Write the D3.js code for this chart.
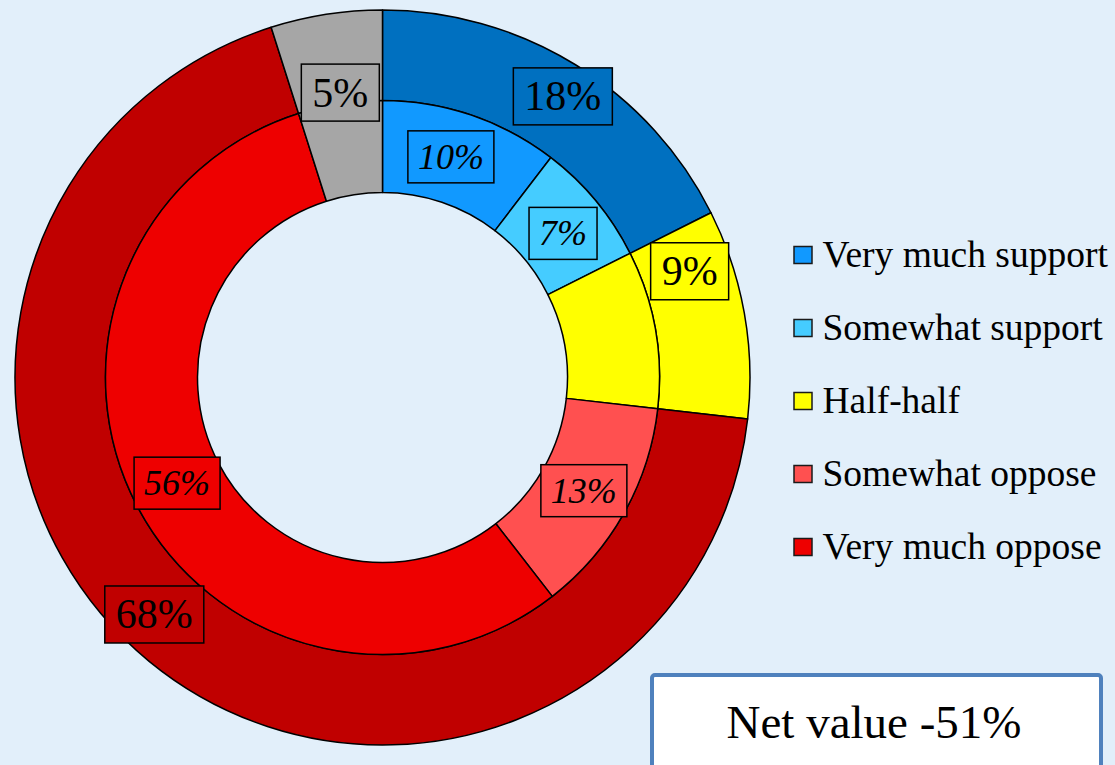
<!DOCTYPE html>
<html>
<head>
<meta charset="utf-8">
<script src="https://cdn.jsdelivr.net/npm/d3@7"></script>
<style>
  html, body { margin: 0; padding: 0; background: #E2EFFA; }
  svg { display: block; }
  text { font-family: "Liberation Serif", "Times New Roman", serif; }
</style>
</head>
<body>
<svg id="chart" width="1115" height="765"></svg>
<script>
// ---- Data ----
const categories = ["Very much support", "Somewhat support", "Half-half", "Somewhat oppose", "Very much oppose", "No answer"];
const innerValues = [10.4, 7.2, 9.2, 12.7, 55.6, 4.9];
const innerShowLabel = [true, true, false, true, true, false];
const outerGroups = ["Support", "Half-half", "Oppose", "No answer"];
const outerValues = [17.6, 9.2, 68.3, 4.9];
const legendItems = ["Very much support", "Somewhat support", "Half-half", "Somewhat oppose", "Very much oppose"];
const netLabel = "Net value -51%";

// ---- Styles ----
const innerColors = ["#1199FF", "#45CCFF", "#FFFF00", "#FF5050", "#EE0000", "#A6A6A6"];
const outerColors = ["#0070C0", "#FFFF00", "#C00000", "#A6A6A6"];
// per-label polar adjustment for outer labels (degrees, radius)
const outerLabelAdjust = [{da: 1, r: 334}, {da: -9, r: 325}, {da: 4.5, r: 329}, {da: 0.4, r: 288}];
const innerLabelAdjust = [-1.5, 1, 0, 0, 0.5, 0];

const svg = d3.select("#chart");
const W = 1115, H = 765;
svg.append("rect").attr("width", W).attr("height", H).attr("fill", "#E2EFFA");

const cx = 382.5, cy = 377.5;
const rOuter = 367.5, rMid = 277, rInner = 185;

const g = svg.append("g").attr("transform", `translate(${cx},${cy})`);

const pie = d3.pie().sort(null).value(d => d);
const innerArcs = pie(innerValues);
const outerArcs = pie(outerValues);

const arcOuter = d3.arc().innerRadius(rMid).outerRadius(rOuter);
const arcInner = d3.arc().innerRadius(rInner).outerRadius(rMid);

g.selectAll("path.outer").data(outerArcs).join("path")
  .attr("class", "outer")
  .attr("d", arcOuter)
  .attr("fill", (d, i) => outerColors[i])
  .attr("stroke", "#000").attr("stroke-width", 1.5).attr("stroke-linejoin", "round");

g.selectAll("path.inner").data(innerArcs).join("path")
  .attr("class", "inner")
  .attr("d", arcInner)
  .attr("fill", (d, i) => innerColors[i])
  .attr("stroke", "#000").attr("stroke-width", 1.5).attr("stroke-linejoin", "round");

function drawLabel(x, y, txt, fill, fontSize, italic, padX, boxH) {
  const lg = g.append("g").attr("transform", `translate(${x},${y})`);
  const rect = lg.append("rect");
  const t = lg.append("text")
    .attr("text-anchor", "middle")
    .attr("dominant-baseline", "central")
    .attr("font-size", fontSize)
    .attr("font-style", italic ? "italic" : "normal")
    .attr("fill", "#000")
    .text(txt);
  const bb = t.node().getBBox();
  const w = bb.width + padX * 2;
  rect.attr("x", -w / 2).attr("y", -boxH / 2).attr("width", w).attr("height", boxH)
    .attr("fill", fill).attr("stroke", "#000").attr("stroke-width", 1.5);
}

// outer labels
outerArcs.forEach((d, i) => {
  const mid = (d.startAngle + d.endAngle) / 2 + outerLabelAdjust[i].da * Math.PI / 180;
  const r = outerLabelAdjust[i].r;
  const x = Math.sin(mid) * r, y = -Math.cos(mid) * r;
  drawLabel(x, y, Math.round(d.data) + "%", outerColors[i], 42, false, 11, 57);
});

// inner labels
const rLab = (rInner + rMid) / 2;
innerArcs.forEach((d, i) => {
  if (!innerShowLabel[i]) return;
  const mid = (d.startAngle + d.endAngle) / 2 + innerLabelAdjust[i] * Math.PI / 180;
  const x = Math.sin(mid) * rLab, y = -Math.cos(mid) * rLab;
  drawLabel(x, y, Math.round(d.data) + "%", innerColors[i], 36, true, 10, 52);
});

// legend
const legend = svg.append("g").attr("transform", "translate(794,255)");
legendItems.forEach((name, i) => {
  const row = legend.append("g").attr("transform", `translate(0,${i * 73})`);
  row.append("rect").attr("x", 0).attr("y", -8.5).attr("width", 18).attr("height", 17)
    .attr("fill", innerColors[i]).attr("stroke", "#1a1a1a").attr("stroke-width", 1.5);
  row.append("text").attr("x", 28.5).attr("y", 11.5)
    .attr("font-size", 37.5).attr("fill", "#000").text(name);
});

// net value box
const nb = svg.append("g");
nb.append("rect").attr("x", 652).attr("y", 675).attr("width", 449).attr("height", 100)
  .attr("rx", 3).attr("fill", "#FFFFFF").attr("stroke", "#4F81BD").attr("stroke-width", 4);
nb.append("text").attr("x", 874).attr("y", 738).attr("text-anchor", "middle")
  .attr("font-size", 47).attr("fill", "#000").text(netLabel);
</script>
</body>
</html>
